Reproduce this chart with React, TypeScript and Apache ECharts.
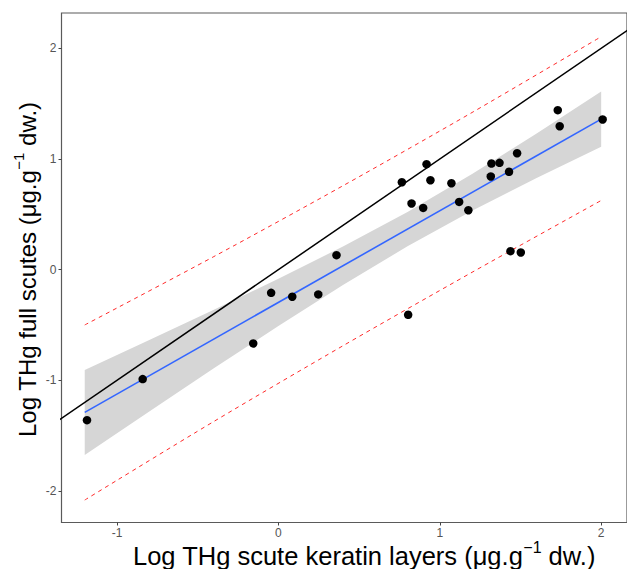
import React, { useEffect, useRef } from "react";
import * as echarts from "echarts";

// Observed points (log THg keratin layers vs log THg full scutes)
const keratinX = [-1.186, -0.841, -0.156, -0.045, 0.086, 0.247, 0.360, 0.804, 0.765, 0.825, 0.897, 0.918, 0.942, 1.072, 1.120, 1.177, 1.320, 1.370, 1.316, 1.429, 1.479, 1.438, 1.502, 1.731, 1.743, 2.009];
const fullY = [-1.360, -0.989, -0.667, -0.210, -0.245, -0.224, 0.131, -0.408, 0.790, 0.598, 0.558, 0.953, 0.808, 0.781, 0.612, 0.537, 0.959, 0.965, 0.842, 0.884, 1.052, 0.167, 0.155, 1.441, 1.296, 1.357];

// Fitted regression line (blue)
const fitX = [-1.2, 2.0];
const fitY = [-1.29, 1.36];

// Confidence band (grey)
const bandX = [-1.2, -0.8, -0.4, 0, 0.4, 0.8, 1.2, 1.6, 2.0];
const bandLower = [-1.674, -1.281, -0.892, -0.509, -0.139, 0.211, 0.532, 0.829, 1.111];
const bandUpper = [-0.906, -0.635, -0.362, -0.083, 0.209, 0.521, 0.864, 1.229, 1.609];

// Prediction limits (red dashed)
const predX = [-1.2, -0.4, 0.4, 1.2, 2.0];
const predUpper = [-0.50, 0.118, 0.758, 1.420, 2.105];
const predLower = [-2.082, -1.372, -0.688, -0.024, 0.625];

// 1:1 reference line (black)
const refX = [-2, 3];
const refY = [-2, 3];

// Ticks
const xTicks = [-1, 0, 1, 2];
const yTicks = [-2, -1, 0, 1, 2];

const FONT = "'Liberation Sans', Arial, Helvetica, sans-serif";

export default function App() {
  const ref = useRef<HTMLDivElement>(null);

  useEffect(() => {
    if (!ref.current) return;
    const chart = echarts.init(ref.current, null, { renderer: "svg" });

    const pairs = (xs: number[], ys: number[]) => xs.map((x, i) => [x, ys[i]]);

    const option: any = {
      animation: false,
      backgroundColor: "#ffffff",
      grid: {
        left: 61.5,
        top: 13,
        right: -0.4,
        bottom: 46.5,
        show: true,
        borderColor: "#5a5a5a",
        borderWidth: 1.2,
        backgroundColor: "transparent",
      },
      xAxis: {
        type: "value",
        min: -1.344,
        max: 2.16,
        axisLine: { show: false, onZero: false },
        splitLine: { show: false },
        axisTick: {
          show: true,
          customValues: xTicks,
          length: 3,
          lineStyle: { color: "#444", width: 1 },
        },
        axisLabel: {
          customValues: xTicks,
          color: "#555555",
          fontSize: 12,
          fontFamily: FONT,
          margin: 4,
        },
      },
      yAxis: {
        type: "value",
        min: -2.285,
        max: 2.319,
        axisLine: { show: false, onZero: false },
        splitLine: { show: false },
        axisTick: {
          show: true,
          customValues: yTicks,
          length: 3,
          lineStyle: { color: "#444", width: 1 },
        },
        axisLabel: {
          customValues: yTicks,
          color: "#555555",
          fontSize: 12,
          fontFamily: FONT,
          margin: 5,
        },
      },
      graphic: [
        {
          type: "text",
          left: 133,
          top: 539,
          style: {
            text: "{a|Log THg scute keratin layers (μg.g}{s|−1}{a| dw.)}",
            rich: {
              a: { fontSize: 25.5, fontFamily: FONT, fill: "#000", lineHeight: 30, verticalAlign: "bottom" },
              s: { fontSize: 16, fontFamily: FONT, fill: "#000", lineHeight: 30, verticalAlign: "top" },
            },
          },
        },
        {
          type: "text",
          x: 25,
          y: 437,
          rotation: Math.PI / 2,
          style: {
            text: "{a|Log THg full scutes (μg.g}{s|−1}{a| dw.)}",
            align: "left",
            verticalAlign: "middle",
            rich: {
              a: { fontSize: 24, fontFamily: FONT, fill: "#000", lineHeight: 29, verticalAlign: "bottom" },
              s: { fontSize: 15, fontFamily: FONT, fill: "#000", lineHeight: 29, verticalAlign: "top" },
            },
          },
        },
      ],
      series: [
        {
          type: "custom",
          name: "band",
          silent: true,
          z: 1,
          data: bandX.map((x, i) => [x, bandLower[i], bandUpper[i]]),
          encode: { x: 0, y: [1, 2] },
          renderItem: (params: any, api: any) => {
            if (params.dataIndex !== 0) return null;
            const pts: number[][] = [];
            for (let i = 0; i < bandX.length; i++) pts.push(api.coord([bandX[i], bandUpper[i]]));
            for (let i = bandX.length - 1; i >= 0; i--) pts.push(api.coord([bandX[i], bandLower[i]]));
            return {
              type: "polygon",
              shape: { points: pts },
              style: { fill: "#d6d6d6", stroke: "none" },
            };
          },
        },
        {
          type: "line",
          name: "1:1",
          data: pairs(refX, refY),
          symbol: "none",
          clip: true,
          z: 2,
          lineStyle: { color: "#000000", width: 1.5 },
        },
        {
          type: "line",
          name: "predUpper",
          data: pairs(predX, predUpper),
          symbol: "none",
          smooth: 0.3,
          z: 2,
          lineStyle: { color: "#ff2a2a", width: 1, type: [4, 4] },
        },
        {
          type: "line",
          name: "predLower",
          data: pairs(predX, predLower),
          symbol: "none",
          smooth: 0.3,
          z: 2,
          lineStyle: { color: "#ff2a2a", width: 1, type: [4, 4] },
        },
        {
          type: "line",
          name: "fit",
          data: pairs(fitX, fitY),
          symbol: "none",
          z: 3,
          lineStyle: { color: "#3366ff", width: 1.6 },
        },
        {
          type: "scatter",
          name: "points",
          data: pairs(keratinX, fullY),
          symbol: "circle",
          symbolSize: 8.5,
          z: 4,
          itemStyle: { color: "#000000", opacity: 1 },
        },
      ],
    };

    chart.setOption(option);
    return () => chart.dispose();
  }, []);

  return (
    <div
      ref={ref}
      style={{ position: "fixed", left: 0, top: 0, width: 627, height: 569, background: "#fff" }}
    />
  );
}
